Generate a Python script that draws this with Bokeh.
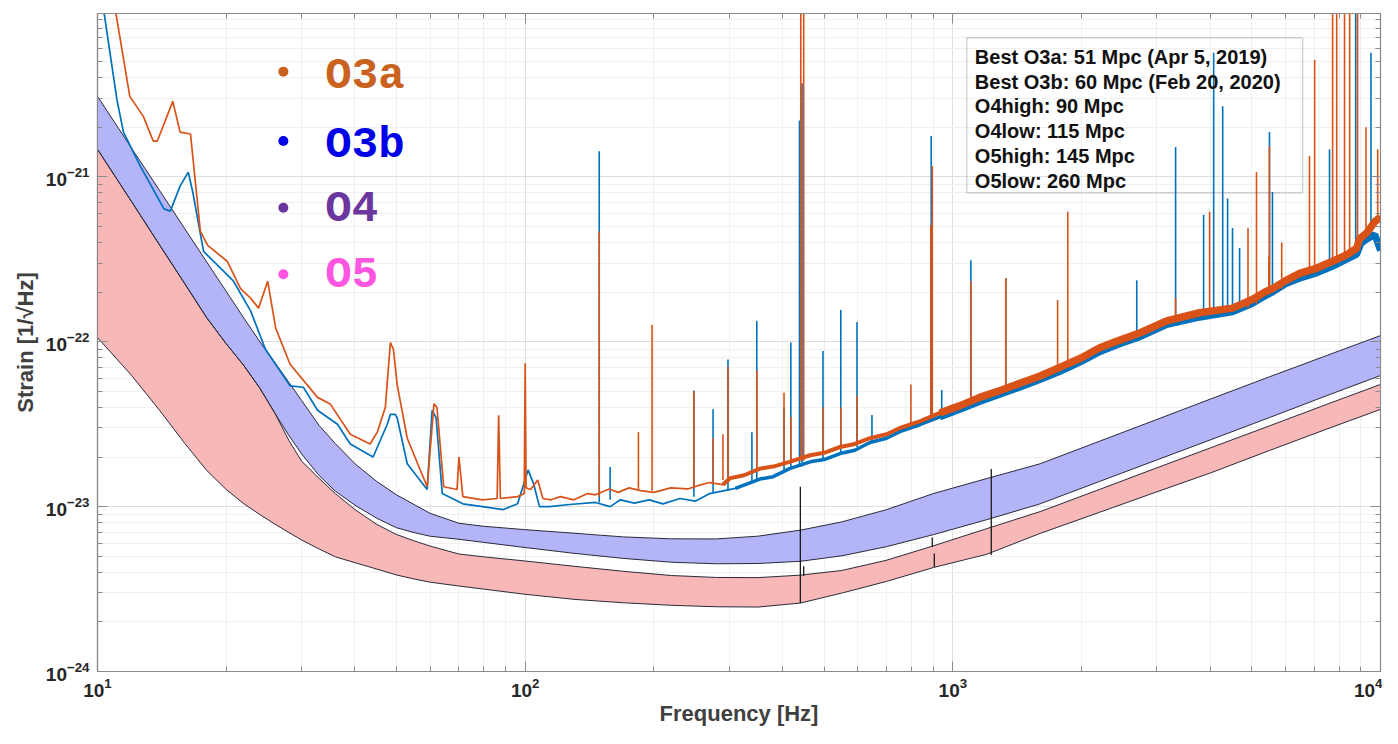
import numpy as np
from bokeh.plotting import figure
from bokeh.models import FixedTicker, LogAxis, LogTickFormatter, BoxAnnotation, CustomJSTickFormatter
from bokeh.core.properties import value
from bokeh.embed import file_html
from bokeh.resources import INLINE

# ---------------- data ----------------
x_major = [10, 100, 1000, 10000]
y_major = [1e-24, 1e-23, 1e-22, 1e-21]

# O3a (orange) measured spectrum, baseline
o3a_f = [10.9, 11.9, 12.8, 13.5, 13.8, 15.0, 15.6, 16.5, 17.4, 18.1, 20.1, 21.6, 22.8, 23.8,
         25.0, 26.1, 28.2, 32.7, 35.0, 39.0, 43.4, 45.1, 47.1, 48.4, 49.2, 50.2, 53.0, 59.0,
         61.2, 62.2, 64.5, 69.3, 70.0, 71.5, 79.5, 86.0, 86.7, 87.5, 96.0, 99.5, 100, 100.5,
         103, 107, 110, 115, 121, 130, 140, 146, 157, 165, 175, 186, 200, 219, 240, 256, 270,
         290, 302, 325, 354, 380, 415, 464, 500, 545, 590, 640, 700, 752, 840, 932, 1040, 1156,
         1300, 1434, 1600, 1778, 2000, 2206, 2450, 2735, 3162, 3776, 4508, 5000, 5420,
         5590, 6000, 6471, 7100, 7727, 8300, 8790, 8930, 9300, 9700, 10000]
o3a_h = [1.2e-20, 3.08e-21, 2.33e-21, 1.65e-21, 1.65e-21, 2.87e-21, 1.87e-21, 1.82e-21, 4.67e-22,
         3.84e-22, 3.08e-22, 2.1e-22, 1.84e-22, 1.6e-22, 2.33e-22, 1.21e-22, 7.3e-23, 4.6e-23,
         4.2e-23, 2.75e-23, 2.4e-23, 2.83e-23, 4.0e-23, 9.9e-23, 9.0e-23, 5.5e-23, 2.6e-23,
         1.32e-23, 4.2e-23, 4.0e-23, 1.32e-23, 1.27e-23, 2.0e-23, 1.15e-23, 1.1e-23, 1.12e-23,
         3.58e-23, 1.12e-23, 1.15e-23, 1.2e-23, 7.4e-23, 1.3e-23, 1.27e-23, 1.45e-23, 1.12e-23,
         1.1e-23, 1.15e-23, 1.1e-23, 1.2e-23, 1.18e-23, 1.28e-23, 1.22e-23, 1.3e-23, 1.25e-23,
         1.22e-23, 1.3e-23, 1.28e-23, 1.35e-23, 1.4e-23, 1.36e-23, 1.49e-23, 1.55e-23, 1.7e-23,
         1.75e-23, 1.87e-23, 2.05e-23, 2.12e-23, 2.3e-23, 2.4e-23, 2.6e-23, 2.75e-23, 3.0e-23,
         3.3e-23, 3.7e-23, 4.1e-23, 4.6e-23, 5.1e-23, 5.6e-23, 6.2e-23, 7.0e-23, 8.0e-23,
         9.2e-23, 1.02e-22, 1.13e-22, 1.34e-22, 1.5e-22, 1.6e-22, 1.8e-22, 2.03e-22,
         2.1e-22, 2.35e-22, 2.6e-22, 2.8e-22, 3.08e-22, 3.35e-22, 3.68e-22, 4.2e-22, 4.6e-22,
         5.36e-22, 5.7e-22]

# O3b (blue) measured spectrum, baseline
o3b_f = [10.2, 11.1, 11.5, 12.6, 14.3, 14.8, 15.6, 16.3, 16.7, 17.7, 19.1, 20.8, 22.8, 24.7,
         28.2, 30.3, 32.7, 36.4, 39.0, 44.1, 47.6, 48.4, 49.6, 50.2, 53.0, 59.0, 60.6, 61.9,
         64.0, 71.5, 79.5, 88.8, 96.0, 101.6, 104.6, 108, 114, 127, 146, 158, 167, 180, 195,
         210, 230, 250, 270, 310, 354, 380, 415, 464, 500, 545, 590, 640, 700, 752, 840, 932,
         1040, 1156, 1300, 1434, 1600, 1778, 2000, 2206, 2450, 2735, 3162, 3776, 4508, 5000,
         5420, 5590, 6000, 6471, 7100, 7727, 8300, 8790, 9000, 9300, 9700, 10000]
o3b_h = [1.3e-20, 2.95e-21, 1.87e-21, 1.16e-21, 6.4e-22, 6.2e-22, 8.8e-22, 1.07e-21, 8.1e-22,
         3.53e-22, 2.91e-22, 2.33e-22, 1.54e-22, 9.0e-23, 5.4e-23, 5.3e-23, 3.84e-23, 3.16e-23,
         2.4e-23, 2.0e-23, 3.16e-23, 3.63e-23, 3.63e-23, 3.46e-23, 1.82e-23, 1.27e-23, 3.84e-23,
         3.46e-23, 1.2e-23, 1.04e-23, 1.0e-23, 9.6e-24, 1.04e-23, 1.67e-23, 1.38e-23, 1.0e-23,
         1.0e-23, 1.03e-23, 1.06e-23, 1.0e-23, 1.1e-23, 1.05e-23, 1.1e-23, 1.04e-23, 1.12e-23,
         1.08e-23, 1.2e-23, 1.29e-23, 1.47e-23, 1.52e-23, 1.7e-23, 1.87e-23, 1.93e-23, 2.1e-23,
         2.2e-23, 2.45e-23, 2.6e-23, 2.85e-23, 3.15e-23, 3.5e-23, 3.9e-23, 4.35e-23, 4.85e-23,
         5.3e-23, 5.9e-23, 6.6e-23, 7.6e-23, 8.7e-23, 9.7e-23, 1.07e-22, 1.27e-22, 1.41e-22,
         1.52e-22, 1.7e-22, 1.92e-22, 2.0e-22, 2.25e-22, 2.43e-22, 2.62e-22, 2.87e-22,
         3.15e-22, 3.39e-22, 3.95e-22, 4.2e-22, 4.47e-22, 3.58e-22]

# narrow spectral lines: frequency, foot, tip
o3b_line_f = [149, 158, 248, 275, 298, 339, 348, 403, 418, 438, 444, 497, 547, 597, 647, 890,
              942, 1102, 1330, 2692, 3318, 3858, 4073, 4276, 4390, 4508, 4683, 5480, 5500,
              5590, 7600, 8750, 9500]
o3b_line_lo = [1.06e-23, 1.1e-23, 1.15e-23, 1.2e-23, 1.25e-23, 1.4e-23, 1.45e-23, 1.65e-23,
               1.7e-23, 1.75e-23, 1.75e-23, 1.95e-23, 2.1e-23, 2.3e-23, 2.45e-23, 3.3e-23,
               3.5e-23, 4.2e-23, 4.9e-23, 1.05e-22, 1.3e-22, 1.4e-22, 1.45e-22, 1.48e-22,
               1.5e-22, 1.5e-22, 1.55e-22, 1.9e-22, 1.95e-22, 2.0e-22, 2.8e-22, 3.3e-22, 4.4e-22]
o3b_line_hi = [1.43e-21, 1.74e-23, 5.07e-23, 3.9e-23, 7.8e-23, 2.83e-23, 1.34e-22, 4.0e-23,
               9.9e-23, 2.2e-21, 3.7e-21, 8.8e-23, 1.56e-22, 1.32e-22, 3.6e-23, 1.77e-21,
               5.1e-23, 3.12e-22, 2.43e-22, 2.36e-22, 1.52e-21, 5.9e-22, 5.66e-21, 2.68e-21,
               7.4e-22, 4.9e-22, 3.7e-22, 3.12e-22, 1.87e-21, 8.1e-22, 1.47e-21, 1.5e-20, 5.66e-21]

o3a_line_f = [149, 184, 198, 248, 275, 290, 298, 348, 403, 418, 441, 448, 497, 547, 597, 798,
              888, 895, 1102, 1330, 1758, 1857, 3318, 3985, 4900, 5129, 5480, 5500, 5875, 6823,
              7015, 7727, 7900, 8240, 8470, 8840, 9250, 9850]
o3a_line_lo = [1.15e-23, 1.25e-23, 1.25e-23, 1.3e-23, 1.4e-23, 1.45e-23, 1.45e-23, 1.65e-23,
               1.85e-23, 1.85e-23, 1.9e-23, 1.9e-23, 2.1e-23, 2.3e-23, 2.45e-23, 3.1e-23,
               3.4e-23, 3.4e-23, 4.4e-23, 5.2e-23, 6.9e-23, 7.3e-23, 1.34e-22, 1.5e-22, 1.6e-22,
               1.7e-22, 2.0e-22, 2.05e-22, 2.1e-22, 2.6e-22, 2.6e-22, 3.0e-22, 3.0e-22, 3.2e-22,
               3.3e-22, 3.6e-22, 4.3e-22, 5.5e-22]
o3a_line_hi = [4.67e-22, 2.83e-23, 1.27e-22, 5.0e-23, 2.6e-23, 2.75e-23, 7.0e-23, 6.7e-23,
               4.9e-23, 3.5e-23, 1.5e-20, 1.5e-20, 4.0e-23, 4.0e-23, 4.7e-23, 5.5e-23, 5.07e-22,
               1.16e-21, 2.33e-22, 2.43e-22, 1.79e-22, 6.15e-22, 1.85e-22, 6.15e-22, 4.9e-22,
               1.07e-21, 3.3e-22, 1.53e-21, 4.0e-22, 1.34e-21, 5.14e-21, 1.5e-20, 1.5e-20,
               1.5e-20, 1.5e-20, 1.5e-20, 2.0e-21, 1.47e-21]

# projected sensitivity bands O4 / O5
band_f = [10, 12, 14, 16, 18, 20, 22, 24, 26, 28, 30, 33, 36, 40, 45, 50, 55, 60, 70, 80, 100,
          130, 170, 220, 280, 350, 440, 550, 700, 900, 1200, 1600, 2200, 3000, 4000, 5500,
          7500, 10000]
o4_high = [3.08e-21, 1.50e-21, 8.2e-22, 4.85e-22, 3.05e-22, 2.02e-22, 1.39e-22, 9.96e-23,
           7.47e-23, 5.69e-23, 4.41e-23, 3.1e-23, 2.41e-23, 1.82e-23, 1.42e-23, 1.18e-23,
           1.03e-23, 9.1e-24, 7.93e-24, 7.6e-24, 7.25e-24, 6.9e-24, 6.55e-24, 6.38e-24, 6.37e-24,
           6.62e-24, 7.2e-24, 8.08e-24, 9.59e-24, 1.2e-23, 1.48e-23, 1.82e-23, 2.49e-23,
           3.38e-23, 4.49e-23, 6.13e-23, 8.27e-23, 1.09e-22]
o4_low = [1.47e-21, 7.11e-22, 3.83e-22, 2.25e-22, 1.40e-22, 9.72e-23, 7.16e-23, 5.2e-23,
          3.68e-23, 2.71e-23, 2.09e-23, 1.54e-23, 1.24e-23, 1.02e-23, 8.5e-24, 7.45e-24,
          6.96e-24, 6.61e-24, 6.34e-24, 6.07e-24, 5.65e-24, 5.21e-24, 4.85e-24, 4.6e-24,
          4.5e-24, 4.52e-24, 4.66e-24, 5.03e-24, 5.72e-24, 6.76e-24, 8.33e-24, 1.04e-23,
          1.42e-23, 1.92e-23, 2.54e-23, 3.47e-23, 4.72e-23, 6.24e-23]
o5_high = [1.47e-21, 7.11e-22, 3.83e-22, 2.25e-22, 1.40e-22, 9.72e-23, 7.16e-23, 5.2e-23,
           3.68e-23, 2.53e-23, 1.89e-23, 1.48e-23, 1.2e-23, 9.6e-24, 7.8e-24, 6.78e-24,
           6.2e-24, 5.76e-24, 5.16e-24, 4.96e-24, 4.68e-24, 4.35e-24, 4.05e-24, 3.82e-24,
           3.72e-24, 3.71e-24, 3.84e-24, 4.1e-24, 4.73e-24, 5.78e-24, 7.35e-24, 9.33e-24,
           1.27e-23, 1.72e-23, 2.27e-23, 3.09e-23, 4.18e-23, 5.51e-23]
o5_low = [1.06e-22, 6.27e-23, 3.81e-23, 2.42e-23, 1.66e-23, 1.27e-23, 1.04e-23, 8.93e-24,
          7.83e-24, 6.97e-24, 6.28e-24, 5.53e-24, 4.96e-24, 4.57e-24, 4.18e-24, 3.85e-24,
          3.64e-24, 3.48e-24, 3.3e-24, 3.16e-24, 2.94e-24, 2.74e-24, 2.61e-24, 2.52e-24,
          2.47e-24, 2.46e-24, 2.6e-24, 2.99e-24, 3.52e-24, 4.27e-24, 5.14e-24, 6.88e-24,
          9.23e-24, 1.23e-23, 1.6e-23, 2.19e-23, 2.96e-23, 3.89e-23]

# calibration lines in the projected curves
cal_f = [440, 448, 895, 905, 1230]
cal_lo = [2.6e-24, 3.8e-24, 5.7e-24, 4.3e-24, 5.1e-24]
cal_hi = [1.32e-23, 4.35e-24, 6.5e-24, 5.2e-24, 1.69e-23]

run_names = ["O3a", "O3b", "O4", "O5"]
run_colors = ["#C8621E", "#0000E8", "#6B379E", "#FF55E0"]
info_lines = ["Best O3a: 51 Mpc (Apr 5, 2019)",
              "Best O3b: 60 Mpc (Feb 20, 2020)",
              "O4high: 90 Mpc",
              "O4low: 115 Mpc",
              "O5high: 145 Mpc",
              "O5low: 260 Mpc"]

# ---------------- figure ----------------
ORANGE = "#D95319"
BLUE = "#0072BD"
AXC = "#8A8A8A"

p = figure(width=1382, height=728, x_axis_type="log", y_axis_type="log",
           x_range=(10, 1e4), y_range=(1e-24, 9.8e-21),
           output_backend="svg", toolbar_location=None,
           min_border_left=97, min_border_right=2, min_border_top=13, min_border_bottom=55,
           background_fill_color="white", border_fill_color="white")
p.outline_line_color = AXC
p.outline_line_width = 1.2

x_minor = [m * 10 ** k for k in range(1, 4) for m in range(2, 10)]
y_minor = [m * 10.0 ** k for k in range(-24, -20) for m in range(2, 10)]
xt = FixedTicker(ticks=x_major, minor_ticks=x_minor)
yt = FixedTicker(ticks=y_major, minor_ticks=y_minor)

for ax, t in ((p.xaxis[0], xt), (p.yaxis[0], yt)):
    ax.ticker = t
    ax.formatter = LogTickFormatter()
    ax.major_tick_in = 10
    ax.major_tick_out = 0
    ax.minor_tick_in = 5
    ax.minor_tick_out = 0
    ax.axis_line_color = AXC
    ax.major_tick_line_color = AXC
    ax.minor_tick_line_color = AXC
    ax.axis_line_width = 1.2
    ax.major_label_text_font = "Liberation Sans"
    ax.major_label_text_font_style = "bold"
    ax.major_label_text_font_size = "19px"
    ax.major_label_text_color = "#262626"
    ax.axis_label_text_font = "Liberation Sans"
    ax.axis_label_text_font_style = "bold"
    ax.axis_label_text_font_size = "22px"
    ax.axis_label_text_color = "#404040"

p.xaxis[0].axis_label = "Frequency [Hz]"
p.xaxis[0].major_label_standoff = 6
p.xaxis[0].axis_label_standoff = 1
p.yaxis[0].axis_label = "Strain [1/\u221aHz]"
p.yaxis[0].major_label_standoff = 8
p.yaxis[0].axis_label_standoff = 5

p.xgrid.ticker = xt
p.ygrid.ticker = yt
for g in (p.xgrid, p.ygrid):
    g.grid_line_color = "#DEDEDE"
    g.minor_grid_line_color = "#F0F0F0"

for loc, t in (("above", xt), ("right", yt)):
    a = LogAxis(ticker=t, major_tick_in=10, major_tick_out=0, minor_tick_in=5,
                minor_tick_out=0, axis_line_color=AXC, major_tick_line_color=AXC,
                minor_tick_line_color=AXC,
                formatter=CustomJSTickFormatter(code="return ' ';"),
                major_label_text_font_size="2px", major_label_text_alpha=0,
                major_label_standoff=0)
    p.add_layout(a, loc)

# bands
p.varea(x=band_f, y1=o5_low, y2=o5_high, fill_color="#F9B8B8")
p.varea(x=band_f, y1=o4_low, y2=o4_high, fill_color="#B4B4F8")
for curve in (o5_low, o5_high, o4_low, o4_high):
    p.line(band_f, curve, line_color="#2A2A3A", line_width=1)
p.segment(x0=cal_f, y0=cal_lo, x1=cal_f, y1=cal_hi, line_color="#1A1A1A", line_width=1.3)

# measured spectra
fa = np.array(o3a_f); ha = np.array(o3a_h)
fb = np.array(o3b_f); hb = np.array(o3b_h)

p.segment(x0=o3b_line_f, y0=o3b_line_lo, x1=o3b_line_f, y1=o3b_line_hi,
          line_color=BLUE, line_width=1.6)
p.line(fb, hb, line_color=BLUE, line_width=1.7)
m = fb >= 280
p.line(fb[m], hb[m], line_color=BLUE, line_width=3.5)
m = fb >= 900
p.line(fb[m], hb[m], line_color=BLUE, line_width=7)

p.segment(x0=o3a_line_f, y0=o3a_line_lo, x1=o3a_line_f, y1=o3a_line_hi,
          line_color=ORANGE, line_width=1.6)
p.line(fa, ha, line_color=ORANGE, line_width=1.7)
m = fa >= 280
p.line(fa[m], ha[m], line_color=ORANGE, line_width=4)
m = fa >= 900
p.line(fa[m], ha[m], line_color=ORANGE, line_width=7.5)

# run legend (left)
dot_y = [4.35e-21, 1.65e-21, 6.5e-22, 2.57e-22]
txt_y = [4.11e-21, 1.56e-21, 6.4e-22, 2.53e-22]
p.scatter(x=[27.2] * 4, y=dot_y, size=10, color=run_colors, line_color=None)
p.text(x=[34.1] * 4, y=txt_y, text=run_names, text_color=run_colors,
       text_font=value("Liberation Mono"), text_font_style="bold",
       text_font_size="44px", text_baseline="middle", text_align="left")

# range box (right)
p.add_layout(BoxAnnotation(left=1078, right=6577, bottom=8.0e-22, top=6.97e-21,
                           fill_alpha=0, line_color="#555555", line_width=1.2))
info_y = [5.36e-21, 3.79e-21, 2.68e-21, 1.89e-21, 1.34e-21, 9.46e-22]
p.text(x=[1126] * 6, y=info_y, text=info_lines, text_color="#111111",
       text_font=value("Liberation Sans"), text_font_style="bold",
       text_font_size="20px", text_baseline="middle", text_align="left")

open("out.html", "w").write(file_html(p, INLINE))
